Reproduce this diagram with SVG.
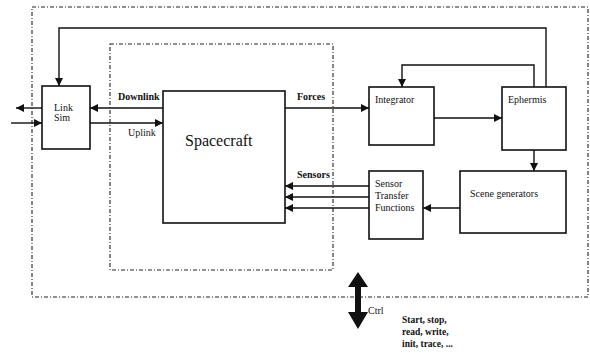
<svg xmlns="http://www.w3.org/2000/svg" width="590" height="353" viewBox="0 0 590 353">
<style>
.box{fill:#fff;stroke:#111;stroke-width:1.6}
.frame{fill:none;stroke:#222;stroke-width:1.1;stroke-dasharray:4 2 1 2}
.wire{fill:none;stroke:#111;stroke-width:1.4}
text{font-family:"Liberation Serif","Times New Roman",serif;font-size:10px;fill:#111}
.b{font-weight:bold}
.sm{font-size:9.5px}
.big{font-size:16px}
</style>
<defs>
<marker id="ah" viewBox="0 0 10 10" refX="10" refY="5" markerWidth="9" markerHeight="8" markerUnits="userSpaceOnUse" orient="auto">
<path d="M0,0 L10,5 L0,10 z" fill="#111"/>
</marker>
</defs>
<rect width="590" height="353" fill="#fff"/>
<g id="frames">
<rect class="frame" x="32" y="7" width="556" height="290"/>
<rect class="frame" x="110" y="44" width="223" height="226"/>
</g>
<g id="connectors">
<line class="wire" x1="163" y1="108" x2="90" y2="108" marker-end="url(#ah)"/>
<line class="wire" x1="90" y1="123" x2="163" y2="123" marker-end="url(#ah)"/>
<line class="wire" x1="42" y1="108" x2="16" y2="108" marker-end="url(#ah)"/>
<line class="wire" x1="11" y1="123" x2="42" y2="123" marker-end="url(#ah)"/>
<polyline class="wire" points="546,87 546,28 59,28 59,86" marker-end="url(#ah)"/>
<polyline class="wire" points="534,87 534,65 402,65 402,87" marker-end="url(#ah)"/>
<line class="wire" x1="285" y1="108" x2="369" y2="108" marker-end="url(#ah)"/>
<line class="wire" x1="434" y1="118" x2="502" y2="118" marker-end="url(#ah)"/>
<line class="wire" x1="534" y1="150" x2="534" y2="171" marker-end="url(#ah)"/>
<line class="wire" x1="460" y1="208" x2="423" y2="208" marker-end="url(#ah)"/>
<line class="wire" x1="369" y1="186" x2="285" y2="186" marker-end="url(#ah)"/>
<line class="wire" x1="369" y1="197" x2="285" y2="197" marker-end="url(#ah)"/>
<line class="wire" x1="369" y1="208" x2="285" y2="208" marker-end="url(#ah)"/>
<polygon id="ctrl-arrow" points="358,272 368,287 361,287 361,312 368,312 358,329 348,312 355,312 355,287 348,287" fill="#111"/>
<text x="118" y="100" class="b">Downlink</text>
<text x="128" y="136">Uplink</text>
<text x="297" y="100" class="b">Forces</text>
<text x="297" y="178" class="b">Sensors</text>
<text x="368" y="314">Ctrl</text>
<text x="402" y="323" class="b sm">Start, stop,</text>
<text x="402" y="335" class="b sm">read, write,</text>
<text x="402" y="347" class="b sm">init, trace, ...</text>
</g>
<g id="linksim">
<rect class="box" x="42" y="86" width="48" height="63"/>
<text x="54" y="111">Link</text>
<text x="54" y="121">Sim</text>
</g>
<g id="spacecraft">
<rect class="box" x="163" y="91" width="122" height="132"/>
<text x="185" y="146" class="big">Spacecraft</text>
</g>
<g id="integrator">
<rect class="box" x="369" y="87" width="65" height="58"/>
<text x="375" y="103">Integrator</text>
</g>
<g id="ephermis">
<rect class="box" x="502" y="87" width="64" height="63"/>
<text x="508" y="103">Ephermis</text>
</g>
<g id="scene">
<rect class="box" x="460" y="171" width="106" height="62"/>
<text x="470" y="197">Scene generators</text>
</g>
<g id="stf">
<rect class="box" x="369" y="171" width="54" height="68"/>
<text x="375" y="187">Sensor</text>
<text x="375" y="199">Transfer</text>
<text x="375" y="211">Functions</text>
</g>
</svg>
